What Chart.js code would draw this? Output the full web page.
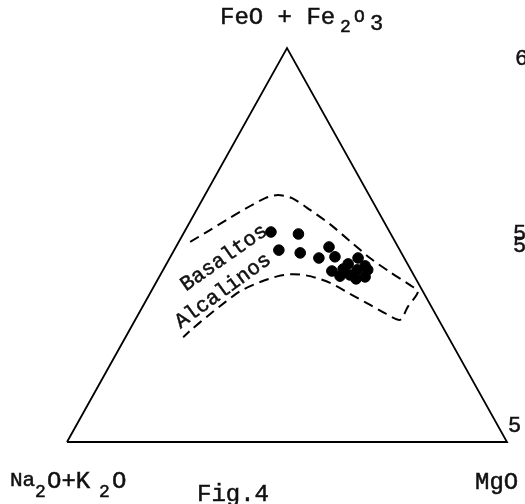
<!DOCTYPE html>
<html>
<head>
<meta charset="utf-8">
<script src="https://cdn.jsdelivr.net/npm/chart.js@4/dist/chart.umd.min.js"></script>
<style>
  body { margin: 0; background: #fff; }
  canvas { display: block; }
</style>
</head>
<body>
<canvas id="afm" width="525" height="504"></canvas>
<script>
// Diagrama AFM: Na2O+K2O (A) - FeO+Fe2O3 (F) - MgO (M), valores en %
const verticeA = [100, 0, 0, 100];
const verticeF = [0, 100, 0, 0];
const verticeM = [0, 0, 100, 0];

// muestras
const muestraA = [27, 21, 27.5, 23, 19.4, 15.7, 15.6, 18.1, 16.9, 13.5, 10.5, 12.2, 9.9, 11.3, 14.5, 15.3, 13.6, 9.8];
const muestraF = [53.3, 52.8, 48.7, 48, 46.7, 49.5, 47, 43.4, 42.1, 45.2, 46.7, 43.7, 44.7, 41.9, 42.4, 43.9, 41.4, 43.7];
const muestraM = [19.7, 26.2, 23.8, 29, 33.9, 34.8, 37.4, 38.5, 41, 41.3, 42.8, 44.1, 45.4, 46.8, 43.1, 40.8, 45.0, 46.5];

// campo de los basaltos alcalinos (linea discontinua)
const campoA = [46.6, 40.6, 34.5, 28.4, 24.0, 20.7, 17.9, 15.3, 12.6, 10.2, 7.8, 5.0, 2.1, 1.2, 5.4, 8.8,
                11.4, 13.7, 16.9, 20.0, 23.7, 27.3, 31.0, 35.8, 41.5, 46.3, 52.0, 57.2, 60.3];
const campoF = [50.8, 53.8, 56.9, 59.9, 61.9, 62.7, 61.9, 58.9, 55.3, 51.0, 46.7, 43.1, 39.8, 38.1, 34.3, 31.0,
                32.7, 34.8, 37.6, 40.4, 42.1, 42.6, 42.1, 40.6, 38.3, 35.5, 32.0, 28.7, 26.6];
const campoM = [2.6, 5.6, 8.6, 11.7, 14.1, 16.6, 20.2, 25.8, 32.1, 38.8, 45.5, 51.9, 58.1, 60.7, 60.3, 60.2,
                55.9, 51.5, 45.5, 39.6, 34.2, 30.1, 26.9, 23.6, 20.2, 18.2, 16.0, 14.1, 13.1];

function ternario(a, f, m) {
    return a.map((v, i) => {
        const s = a[i] + f[i] + m[i];
        return { x: (m[i] + f[i] / 2) / s, y: f[i] / s };
    });
}

const FUENTE = '"Liberation Mono", "DejaVu Sans Mono", monospace';

// texto de maquina de escribir, un poco engrosado
function escribir(ctx, t, x, y) {
    ctx.fillText(t, x, y);
    ctx.strokeText(t, x, y);
}

function texto(ctx, piezas) {
    piezas.forEach(p => {
        ctx.font = p[3] + 'px ' + FUENTE;
        escribir(ctx, p[0], p[1], p[2]);
    });
}

const rotulos = {
    id: 'rotulos',
    afterDraw(chart) {
        const ctx = chart.ctx;
        ctx.save();
        ctx.fillStyle = '#111';
        ctx.strokeStyle = '#111';
        ctx.lineWidth = 0.5;
        ctx.textAlign = 'left';
        ctx.textBaseline = 'alphabetic';
        texto(ctx, [
            ['FeO + Fe', 220, 24, 24], ['2', 340, 32, 18], ['O', 354, 22, 18], ['3', 370, 30, 22],
            ['Na', 10, 486, 21], ['2', 35, 497, 18], ['O+K', 47, 488, 24], ['2', 99, 497, 18], ['O', 112, 488, 24],
            ['MgO', 475, 489, 24], ['Fig.4', 197, 501, 24],
            ['6', 515, 65, 22], ['5', 513, 240, 22], ['5', 513, 252, 22], ['5', 508, 432, 22]
        ]);
        ctx.font = '21px ' + FUENTE;
        ctx.textAlign = 'center';
        ctx.textBaseline = 'middle';
        [['Basaltos', 224, 258, -35], ['Alcalinos', 223, 291, -36]].forEach(r => {
            ctx.save();
            ctx.translate(r[1], r[2]);
            ctx.rotate(r[3] * Math.PI / 180);
            escribir(ctx, r[0], 0, 0);
            ctx.restore();
        });
        ctx.restore();
    }
};

const ctx = document.getElementById('afm').getContext('2d');
const afm = new Chart(ctx, {
    type: 'scatter',
    data: {
        datasets: [{
            label: 'triangulo',
            data: ternario(verticeA, verticeF, verticeM),
            showLine: true,
            borderColor: '#000',
            borderWidth: 1.8,
            pointRadius: 0,
            tension: 0
        }, {
            label: 'campo',
            data: ternario(campoA, campoF, campoM),
            showLine: true,
            borderColor: '#000',
            borderWidth: 2,
            borderDash: [10, 6],
            pointRadius: 0,
            tension: 0.25
        }, {
            label: 'muestras',
            data: ternario(muestraA, muestraF, muestraM),
            backgroundColor: '#000',
            borderColor: '#000',
            pointRadius: 5.3,
            pointHoverRadius: 5.3
        }]
    },
    options: {
        responsive: false,
        animation: false,
        layout: { padding: 0, autoPadding: false },
        plugins: {
            legend: { display: false },
            tooltip: { enabled: false }
        },
        scales: {
            x: { type: 'linear', display: false, min: -67 / 440, max: 1 + 18 / 440 },
            y: { type: 'linear', display: false, min: -62 / 394, max: 1 + 48 / 394 }
        }
    },
    plugins: [rotulos]
});
</script>
</body>
</html>
